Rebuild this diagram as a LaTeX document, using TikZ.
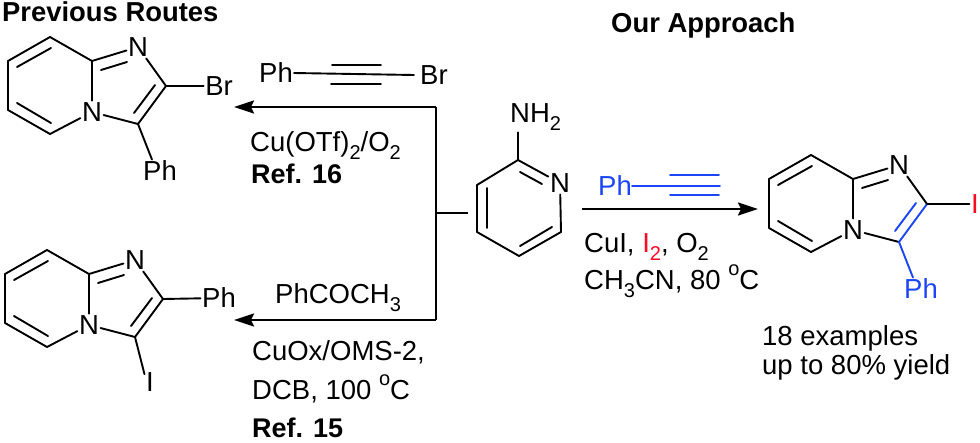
\documentclass[tikz,border=0pt]{standalone}
\usepackage{fontspec}
\setmainfont{Liberation Sans}
\usetikzlibrary{arrows.meta,calc}
\definecolor{bluechem}{RGB}{28,70,245}
\definecolor{redchem}{RGB}{250,10,35}
\newcommand{\dnidx}[1]{\raisebox{-0.3em}{\fontsize{20}{20}\selectfont #1}}
\newcommand{\upidx}[1]{\raisebox{0.5em}{\fontsize{20}{20}\selectfont #1}}
\tikzset{
  bond/.style={line width=1.9pt,line cap=round,line join=round},
  rxn/.style={line width=2pt,-{Stealth[length=20pt,width=13pt,inset=3pt]}},
  rail/.style={line width=2pt},
  atom/.style={font=\fontsize{27.5}{27.5}\selectfont,inner sep=1.5pt,text height=19.5pt,text depth=0pt},
  label/.style={font=\fontsize{27.5}{27.5}\selectfont,inner sep=0pt,anchor=base west},
  reflabel/.style={label,font=\fontsize{27}{27}\selectfont\bfseries},
  head/.style={font=\fontsize{27.4}{27.4}\selectfont\bfseries,inner sep=0pt,anchor=base west},
  bluetext/.style={text=bluechem},
  fgbond/.style={},
  ring/.pic={
    \coordinate (a) at (50,37);
    \coordinate (b) at (8,61);
    \coordinate (c) at (8,110);
    \coordinate (d) at (50,134);
    \coordinate (e) at (92,61);
    \coordinate (f) at (166,86);
    \coordinate (g) at (138,124);
    \node[atom] (n1) at (92,112) {N};
    \node[atom] (n2) at (138,47) {N};
    \draw[bond] (d) -- (c) -- (b) -- (a) -- (e) -- (n1) (d) -- (n1) (e) -- (n2) (n2) -- (f);
    \draw[bond] (n1) -- (g);
    \draw[bond] (17,67) -- (51,48);
    \draw[bond] (17,103) -- (51,123);
    \draw[bond] (101,70) -- (127,62);
    \draw[bond,fgbond] (f) -- (g) (155,85) -- (134,113);
  }
}
\begin{document}
\begin{tikzpicture}[x=1pt,y=-1pt]
\useasboundingbox (0,0) rectangle (980,442);
\fill[white] (0,0) rectangle (980,442);
% titles
\node[head] (ttlprev) at (2,21) {Previous Routes};
\node[head] (ttlour) at (611,32) {Our Approach};
% top-left product
\pic (m1-) at (0,0) {ring};
\node[atom] (m1br) at (219,86) {Br};
\node[atom] (m1ph) at (160,171) {Ph};
\draw[bond] (m1-f) -- (m1br);
\draw[bond] (m1-g) -- (m1ph.125);
% bottom-left product
\pic (m2-) at (-3,213) {ring};
\node[atom] (m2ph) at (219,298) {Ph};
\node[atom] (m2i) at (150,382) {I};
\draw[bond] (m2-f) -- (m2ph);
\draw[bond] (m2-g) -- (m2i.125);
% right product
\pic[fgbond/.style={draw=bluechem}] (m3-) at (761,118) {ring};
\node[atom,text=redchem] (m3i) at (975,204) {I};
\node[atom,text=bluechem] (m3ph) at (921,289) {Ph};
\draw[bond] (m3-f) -- (m3i);
\draw[bond,bluechem] (m3-g) -- (m3ph.125);
% aminopyridine
\coordinate (pc2) at (518,160);
\coordinate (pc3) at (477,185);
\coordinate (pc4) at (477,232);
\coordinate (pc5) at (519,256);
\coordinate (pc6) at (561,232);
\node[atom] (pn) at (560,183) {N};
\node[label] (pnh) at (510,122) {NH\dnidx{2}};
\draw[bond] (pc2) -- (pn) (pn) -- (pc6) -- (pc5) -- (pc4) -- (pc3) -- (pc2);
\draw[bond] (pc2) -- ($(pc2 |- pnh.south)+(0,2)$);
\draw[bond] (520,172) -- (542,184) (487,188) -- (487,228) (520,246) -- (552,227);
% rails and arrows
\coordinate (railtop) at (436,107);
\coordinate (railbot) at (436,320);
\coordinate (railmid) at (436,213);
\coordinate (tip1) at (234,107);
\coordinate (tip2) at (234,320);
\coordinate (stub) at (468,213);
\coordinate (rstart) at (582,209);
\coordinate (rtip) at (758,209);
\draw[rail,line join=miter] (railtop) -- (railbot);
\draw[rail] (railmid) -- (stub);
\draw[rxn] (railtop) -- (tip1);
\draw[rxn] (railbot) -- (tip2);
\draw[rxn] (rstart) -- (rtip);
% bromo alkyne
\node[label] (aph) at (259,82) {Ph};
\node[label] (abr) at (420,84) {Br};
\coordinate (a1) at (294,73);
\coordinate (a2) at (414,75);
\draw[bond] (a1) -- (a2) (332,65) -- (381,65) (331,84) -- (381,84);
% reagents
\node[label] (r1) at (250,151) {Cu(OTf)\dnidx{2}/O\dnidx{2}};
\node[reflabel] (r2) at (251,183) {Ref. 16};
\node[label] (r3) at (275,303) {PhCOCH\dnidx{3}};
\node[label] (r4) at (252,360) {CuOx/OMS-2,};
\node[label] (r5) at (252,399) {DCB, 100 \upidx{o}C};
\node[reflabel] (r6) at (252,437) {Ref. 15};
% blue alkyne
\node[label,bluetext] (bph) at (598,195) {Ph};
\draw[bond,bluechem] (632,186) -- (720,186) (670,175) -- (719,175) (670,195) -- (719,195);
\node[label] (r7) at (584,252) {CuI, \textcolor{redchem}{I\dnidx{2}}, O\dnidx{2}};
\node[label] (r8) at (584,289) {CH\dnidx{3}CN, 80 \upidx{o}C};
\node[label] (r9) at (762,345) {18 examples};
\node[label] (r10) at (762,374) {up to 80\% yield};
\end{tikzpicture}
\end{document}
